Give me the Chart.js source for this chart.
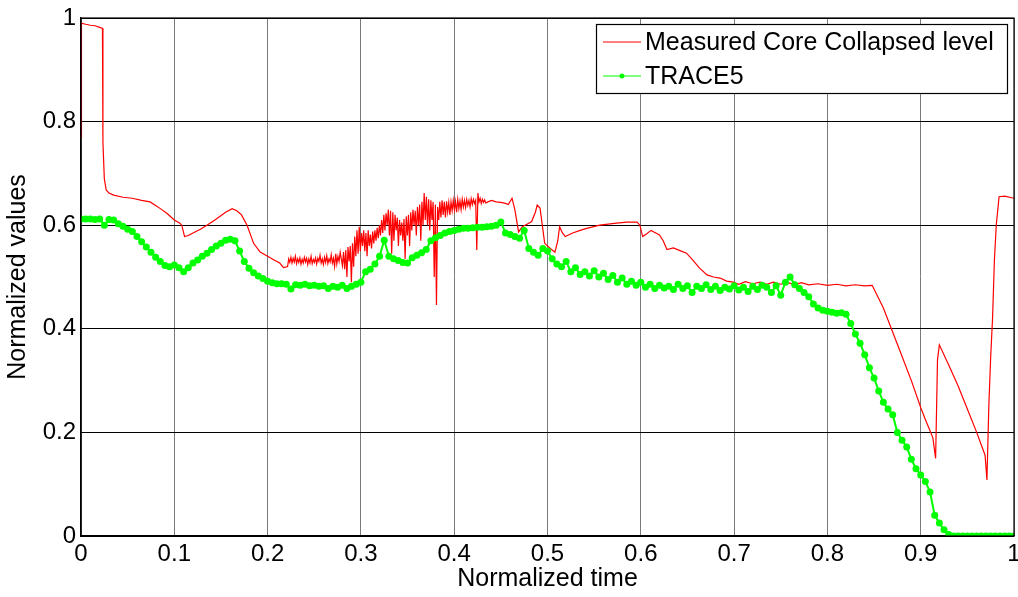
<!DOCTYPE html>
<html>
<head>
<meta charset="utf-8">
<script src="https://cdn.jsdelivr.net/npm/chart.js@4.4.1/dist/chart.umd.min.js"></script>
<style>
  html, body { margin: 0; padding: 0; background: #fff; }
  #wrap { width: 1018px; height: 597px; position: relative; }
</style>
</head>
<body>
<div id="wrap"><canvas id="chart"></canvas></div>
<script>
  // measured core collapsed level (red): first part, time / value pairs
  const redHeadT = [
    0, 0.0005, 0.005, 0.01, 0.015, 0.02, 0.023, 0.0235, 0.025, 0.027,
    0.03, 0.035, 0.045, 0.055, 0.065, 0.074, 0.08, 0.085, 0.092, 0.1,
    0.106, 0.108, 0.111, 0.115, 0.12, 0.128, 0.135, 0.145, 0.155, 0.162,
    0.167, 0.172, 0.178, 0.185, 0.192, 0.2, 0.207, 0.213, 0.217
  ];
  const redHeadV = [
    0.77, 0.99, 0.988, 0.986, 0.985, 0.982, 0.98, 0.76, 0.69, 0.668,
    0.662, 0.658, 0.654, 0.652, 0.648, 0.645, 0.638, 0.632, 0.623, 0.61,
    0.604, 0.6, 0.578, 0.58, 0.585, 0.592, 0.6, 0.612, 0.625, 0.632,
    0.628, 0.62, 0.6, 0.565, 0.548, 0.54, 0.533, 0.527, 0.518
  ];

  // noisy stretch, read every 0.0012 of normalized time
  const redNoiseStart = 0.2214;
  const redNoiseStep = 0.0012;
  const redNoiseV = [
    0.52, 0.535, 0.528, 0.538, 0.527, 0.536, 0.529, 0.54, 0.526, 0.535,
    0.528, 0.537, 0.525, 0.534, 0.527, 0.538, 0.529, 0.536, 0.524, 0.535,
    0.527, 0.54, 0.526, 0.534, 0.528, 0.537, 0.525, 0.536, 0.53, 0.542,
    0.527, 0.535, 0.524, 0.538, 0.528, 0.541, 0.526, 0.535, 0.529, 0.543,
    0.527, 0.536, 0.52, 0.545, 0.525, 0.54, 0.53, 0.548,
    0.535, 0.522, 0.548, 0.515, 0.552, 0.50, 0.558, 0.53, 0.56, 0.49,
    0.565, 0.52, 0.578, 0.54, 0.59, 0.545, 0.597, 0.55, 0.585, 0.56,
    0.59, 0.55, 0.585, 0.54, 0.59, 0.56, 0.582, 0.555, 0.588, 0.565,
    0.59, 0.57, 0.595, 0.575, 0.6, 0.58, 0.61, 0.585, 0.62, 0.59,
    0.623, 0.6, 0.63, 0.58, 0.628, 0.545, 0.625, 0.57, 0.62, 0.59,
    0.615, 0.56, 0.61, 0.58, 0.605, 0.57, 0.612, 0.535, 0.617, 0.58,
    0.62, 0.56, 0.625, 0.59, 0.63, 0.6, 0.628, 0.58, 0.635, 0.6,
    0.64, 0.57, 0.645, 0.6, 0.662, 0.61, 0.655, 0.6, 0.65, 0.59,
    0.648, 0.61, 0.645, 0.5, 0.64, 0.446, 0.635, 0.61, 0.645, 0.615,
    0.648, 0.62, 0.645, 0.615, 0.646, 0.625, 0.644, 0.62, 0.645, 0.628,
    0.648, 0.63, 0.646, 0.625, 0.65, 0.632, 0.647, 0.63, 0.65, 0.635,
    0.648, 0.634, 0.65, 0.638, 0.648, 0.635, 0.651, 0.64, 0.65, 0.642,
    0.648, 0.552, 0.662, 0.645, 0.652, 0.642, 0.65, 0.644, 0.649, 0.643
  ];

  // rest of the red trace, time / value pairs
  const redTailT = [
    0.436, 0.44, 0.445, 0.45, 0.455, 0.458, 0.462, 0.465, 0.469, 0.473,
    0.478, 0.483, 0.487, 0.489, 0.492, 0.497, 0.503, 0.508, 0.511, 0.513,
    0.516, 0.519, 0.527, 0.535, 0.542, 0.556, 0.574, 0.585, 0.596, 0.599,
    0.602, 0.606, 0.611, 0.616, 0.62, 0.624, 0.628, 0.635, 0.642, 0.649,
    0.656, 0.663, 0.671, 0.678, 0.685, 0.692, 0.699, 0.705, 0.712, 0.72,
    0.728, 0.735, 0.742, 0.75, 0.758, 0.765, 0.772, 0.78, 0.79, 0.8,
    0.81, 0.82, 0.83, 0.84, 0.848, 0.86, 0.875, 0.89, 0.9, 0.905,
    0.913, 0.916, 0.918, 0.92, 0.93, 0.94, 0.95, 0.96, 0.969, 0.971,
    0.973, 0.975, 0.977, 0.979, 0.981, 0.984, 0.99, 1.0
  ];
  const redTailV = [
    0.645, 0.648, 0.645, 0.644, 0.642, 0.64, 0.652, 0.63, 0.587, 0.597,
    0.602, 0.607, 0.625, 0.639, 0.633, 0.565, 0.555, 0.548, 0.57, 0.597,
    0.585, 0.578, 0.585, 0.59, 0.594, 0.6, 0.604, 0.606, 0.606, 0.6,
    0.578, 0.583, 0.59, 0.585, 0.581, 0.57, 0.553, 0.556, 0.551, 0.546,
    0.532, 0.517, 0.504, 0.5, 0.498, 0.492, 0.49, 0.486, 0.491, 0.487,
    0.49, 0.486, 0.49, 0.486, 0.489, 0.485, 0.489, 0.485, 0.487, 0.484,
    0.486, 0.483, 0.485, 0.483, 0.484, 0.44, 0.37, 0.3, 0.248, 0.225,
    0.19, 0.15, 0.34, 0.369, 0.33, 0.29, 0.245, 0.2, 0.156, 0.108,
    0.25, 0.345, 0.42, 0.533, 0.6, 0.655, 0.656, 0.652
  ];

  // TRACE5 (green), read every 0.005 of normalized time
  const greenStep = 0.005;
  const greenV = [
    0.612, 0.612, 0.612, 0.611, 0.612, 0.6, 0.611, 0.61, 0.603, 0.598,
    0.592, 0.588, 0.578, 0.568, 0.558, 0.548, 0.538, 0.53, 0.522, 0.52,
    0.523, 0.518, 0.51, 0.518, 0.527, 0.533, 0.54, 0.546, 0.553, 0.56,
    0.565, 0.571, 0.573, 0.57, 0.55, 0.53, 0.517, 0.508, 0.502, 0.497,
    0.492, 0.489, 0.487, 0.487, 0.486, 0.477, 0.485, 0.484, 0.486, 0.483,
    0.484, 0.482, 0.483, 0.478, 0.482, 0.48, 0.484, 0.478, 0.482, 0.486,
    0.49, 0.51, 0.515, 0.525, 0.54, 0.571, 0.54, 0.535, 0.532, 0.528,
    0.527, 0.537, 0.542, 0.547, 0.553, 0.57, 0.576, 0.58, 0.585, 0.588,
    0.59, 0.592, 0.594, 0.594, 0.595, 0.596, 0.596, 0.597, 0.598, 0.6,
    0.606, 0.585, 0.582, 0.578, 0.575, 0.59, 0.555, 0.548, 0.542, 0.555,
    0.55, 0.535, 0.525, 0.52, 0.53, 0.51, 0.518, 0.505, 0.51, 0.502,
    0.512, 0.5, 0.507, 0.495, 0.503, 0.49, 0.498, 0.486, 0.492, 0.484,
    0.49, 0.48, 0.486, 0.478, 0.484, 0.479, 0.482, 0.476, 0.486, 0.478,
    0.483, 0.47, 0.482, 0.478, 0.485, 0.476, 0.482, 0.474, 0.48, 0.477,
    0.483, 0.475, 0.48, 0.472, 0.482, 0.476, 0.484, 0.48, 0.47, 0.483,
    0.465, 0.49, 0.5, 0.485, 0.478, 0.47, 0.462, 0.448, 0.44, 0.436,
    0.434, 0.432, 0.43, 0.431, 0.428, 0.41, 0.39, 0.372, 0.35, 0.325,
    0.305, 0.28, 0.258, 0.245, 0.234, 0.2, 0.185, 0.172, 0.148, 0.13,
    0.118, 0.105, 0.085, 0.04, 0.025, 0.012, 0.003, 0, 0, 0,
    0, 0, 0, 0, 0, 0, 0, 0, 0, 0,
    0
  ];

  const seriesLabels = ["Measured Core Collapsed level", "TRACE5"];
  const FONT = "'Liberation Sans', Arial, sans-serif";

  const redPoints = [
    ...redHeadT.map((t, i) => ({ x: t, y: redHeadV[i] })),
    ...redNoiseV.map((v, i) => ({ x: redNoiseStart + i * redNoiseStep, y: v })),
    ...redTailT.map((t, i) => ({ x: t, y: redTailV[i] }))
  ];
  const greenPoints = greenV.map((v, i) => ({ x: i * greenStep, y: v }));

  function tickText(value) {
    return String(Number(value.toFixed(2)));
  }

  // box around the plot area, like a matlab axes with "box on"
  const frame = {
    id: "frame",
    afterDatasetsDraw(chart) {
      const { ctx, chartArea: a } = chart;
      ctx.save();
      ctx.strokeStyle = "#000";
      ctx.lineWidth = 1.2;
      ctx.strokeRect(a.left, a.top, a.right - a.left, a.bottom - a.top);
      ctx.restore();
    }
  };

  const legendBox = {
    id: "legendBox",
    afterDraw(chart) {
      const ctx = chart.ctx;
      const sets = chart.data.datasets;
      const x = 596.5, y = 24.5, w = 411, h = 69;
      ctx.save();
      ctx.fillStyle = "#fff";
      ctx.fillRect(x, y, w, h);
      ctx.strokeStyle = "#000";
      ctx.lineWidth = 1.2;
      ctx.strokeRect(x, y, w, h);
      ctx.font = "25px " + FONT;
      ctx.textBaseline = "middle";
      const rows = [43, 77];
      sets.forEach((ds, i) => {
        const ry = rows[i];
        ctx.strokeStyle = ds.borderColor;
        ctx.lineWidth = 1;
        ctx.beginPath();
        ctx.moveTo(603, ry - 1);
        ctx.lineTo(641, ry - 1);
        ctx.stroke();
        if (ds.pointRadius > 0) {
          ctx.fillStyle = ds.pointBackgroundColor;
          ctx.beginPath();
          ctx.arc(622, ry - 1, 2.5, 0, Math.PI * 2);
          ctx.fill();
        }
        ctx.fillStyle = "#000";
        ctx.fillText(ds.label, 645, ry);
      });
      ctx.restore();
    }
  };

  new Chart(document.getElementById("chart"), {
    type: "line",
    data: {
      datasets: [
        {
          label: seriesLabels[0],
          data: redPoints,
          borderColor: "#ff0000",
          borderWidth: 1.2,
          pointRadius: 0,
          tension: 0,
          order: 1
        },
        {
          label: seriesLabels[1],
          data: greenPoints,
          borderColor: "#00ff00",
          borderWidth: 2,
          pointRadius: 3.5,
          pointBorderWidth: 0,
          pointBackgroundColor: "#00ff00",
          tension: 0,
          order: 0
        }
      ]
    },
    options: {
      responsive: true,
      maintainAspectRatio: false,
      animation: false,
      events: [],
      layout: {
        padding: { left: 0, right: 4, top: 18, bottom: 0 }
      },
      plugins: {
        legend: { display: false },
        tooltip: { enabled: false }
      },
      scales: {
        x: {
          type: "linear",
          min: 0,
          max: 1,
          afterFit(s) {
            s.height = 61;
            s.paddingLeft = 0;
            s.paddingRight = 0;
          },
          grid: {
            color: "#7a7a7a",
            lineWidth: 1,
            drawTicks: false
          },
          border: { display: true, color: "#000", width: 1.2 },
          ticks: {
            stepSize: 0.1,
            padding: 4,
            color: "#000",
            maxRotation: 0,
            callback: tickText,
            font: { family: FONT, size: 24 }
          },
          title: {
            display: true,
            text: "Normalized time",
            color: "#000",
            padding: { top: 0, bottom: 3 },
            font: { family: FONT, size: 25 }
          }
        },
        y: {
          min: 0,
          max: 1,
          afterFit(s) {
            s.width = 81;
            s.paddingTop = 0;
            s.paddingBottom = 0;
          },
          grid: {
            color: "#000",
            lineWidth: 1,
            drawTicks: false
          },
          border: { display: true, color: "#000", width: 1.2 },
          ticks: {
            stepSize: 0.2,
            padding: 5,
            color: "#000",
            callback: tickText,
            font: { family: FONT, size: 24 }
          },
          title: {
            display: true,
            text: "Normalized values",
            color: "#000",
            padding: { top: 3, bottom: 0 },
            font: { family: FONT, size: 25 }
          }
        }
      }
    },
    plugins: [frame, legendBox]
  });
</script>
</body>
</html>
